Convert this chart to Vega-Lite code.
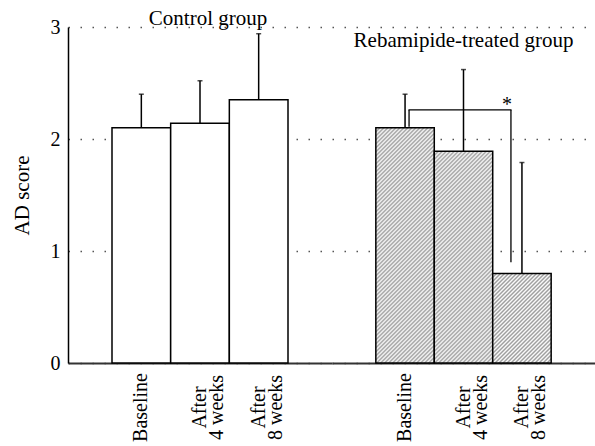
{
"$schema": "https://vega.github.io/schema/vega-lite/v6.json",
"background": "white",
"padding": {"left": 11, "top": 7, "right": 0, "bottom": 0},
"spacing": 0,
"config": {
"font": "Liberation Serif",
"view": {"stroke": null},
"axisX": {"title": null, "labelAngle": -90, "labelAlign": "center", "labelBaseline": "middle", "labelPadding": 44, "ticks": false, "domainColor": "#333", "domainWidth": 2, "labelFontSize": 20, "labelLineHeight": 17, "labelColor": "black", "labelOverlap": false, "labelBound": false, "labelFlush": false, "grid": false, "labelExpr": "datum.value === 'Baseline' ? datum.value : ['After', substring(datum.value, 6)]"},
"axisY": {"ticks": false, "grid": true, "gridDash": [1.5, 10.5], "gridColor": "#555", "gridWidth": 1.3, "labelFontSize": 20, "labelColor": "black", "titleFontSize": 21, "titleFontWeight": "normal", "titleColor": "black", "labelPadding": 8, "titlePadding": 18, "domainColor": "black", "domainWidth": 1.5, "format": "d"}
},
"datasets": {
"bars": [
{"group": "Control", "time": "Baseline", "mean": 2.10, "err": 2.40},
{"group": "Control", "time": "After 4 weeks", "mean": 2.14, "err": 2.52},
{"group": "Control", "time": "After 8 weeks", "mean": 2.35, "err": 2.94},
{"group": "Rebamipide", "time": "Baseline", "mean": 2.10, "err": 2.40},
{"group": "Rebamipide", "time": "After 4 weeks", "mean": 1.89, "err": 2.62},
{"group": "Rebamipide", "time": "After 8 weeks", "mean": 0.80, "err": 1.79}
]
},
"hconcat": [
{
"width": 264, "height": 336,
"data": {"name": "bars"},
"encoding": {"x": {"field": "time", "type": "nominal", "sort": null, "scale": {"domain": ["Baseline", "After 4 weeks", "After 8 weeks"], "paddingInner": 0, "paddingOuter": 0.75}}},
"layer": [
{"transform": [{"filter": "datum.group === 'Control'"}], "mark": {"type": "rule", "color": "black", "strokeWidth": 1.5}, "encoding": {"y": {"field": "mean", "type": "quantitative", "title": "AD score", "scale": {"domain": [0, 3], "nice": false}, "axis": {"values": [0, 1, 2, 3]}}, "y2": {"field": "err"}}},
{"transform": [{"filter": "datum.group === 'Control'"}], "mark": {"type": "tick", "orient": "horizontal", "size": 5, "thickness": 1.5, "color": "black"}, "encoding": {"y": {"field": "err", "type": "quantitative", "title": "AD score"}}},
{"transform": [{"filter": "datum.group === 'Control'"}], "mark": {"type": "bar", "fill": "white", "stroke": "black", "strokeWidth": 1.5}, "encoding": {"y": {"field": "mean", "type": "quantitative", "title": "AD score"}}},
{"data": {"values": [{"t": "Control group"}]}, "mark": {"type": "text", "fontSize": 21, "dx": 8, "baseline": "alphabetic", "align": "center", "color": "black"}, "encoding": {"x": {"datum": "After 4 weeks"}, "y": {"datum": 3.02, "title": "AD score"}, "text": {"field": "t"}}}
]
},
{
"width": 263, "height": 336,
"data": {"name": "bars"},
"encoding": {"x": {"field": "time", "type": "nominal", "sort": null, "scale": {"domain": ["Baseline", "After 4 weeks", "After 8 weeks"], "paddingInner": 0, "paddingOuter": 0.75}}},
"layer": [
{"transform": [{"filter": "datum.group === 'Rebamipide'"}], "mark": {"type": "rule", "color": "black", "strokeWidth": 1.5}, "encoding": {"y": {"field": "mean", "type": "quantitative", "title": null, "scale": {"domain": [0, 3], "nice": false}, "axis": {"values": [0, 1, 2, 3], "labels": false, "domain": false}}, "y2": {"field": "err"}}},
{"transform": [{"filter": "datum.group === 'Rebamipide'"}], "mark": {"type": "tick", "orient": "horizontal", "size": 5, "thickness": 1.5, "color": "black"}, "encoding": {"y": {"field": "err", "type": "quantitative", "title": null}}},
{"transform": [{"filter": "datum.group === 'Rebamipide' && datum.time === 'Baseline'"}], "mark": {"type": "bar", "stroke": "black", "strokeWidth": 1.5, "fill": {"gradient": "linear", "x1": 0, "y1": 0, "x2": 0.398, "y2": 1.6018, "stops": [
{"offset":0,"color":"#999"},{"offset":0.005,"color":"#fff"},{"offset":0.01,"color":"#999"},{"offset":0.015,"color":"#fff"},{"offset":0.02,"color":"#999"},{"offset":0.025,"color":"#fff"},{"offset":0.03,"color":"#999"},{"offset":0.035,"color":"#fff"},{"offset":0.04,"color":"#999"},{"offset":0.045,"color":"#fff"},
{"offset":0.05,"color":"#999"},{"offset":0.055,"color":"#fff"},{"offset":0.06,"color":"#999"},{"offset":0.065,"color":"#fff"},{"offset":0.07,"color":"#999"},{"offset":0.075,"color":"#fff"},{"offset":0.08,"color":"#999"},{"offset":0.085,"color":"#fff"},{"offset":0.09,"color":"#999"},{"offset":0.095,"color":"#fff"},
{"offset":0.1,"color":"#999"},{"offset":0.105,"color":"#fff"},{"offset":0.11,"color":"#999"},{"offset":0.115,"color":"#fff"},{"offset":0.12,"color":"#999"},{"offset":0.125,"color":"#fff"},{"offset":0.13,"color":"#999"},{"offset":0.135,"color":"#fff"},{"offset":0.14,"color":"#999"},{"offset":0.145,"color":"#fff"},
{"offset":0.15,"color":"#999"},{"offset":0.155,"color":"#fff"},{"offset":0.16,"color":"#999"},{"offset":0.165,"color":"#fff"},{"offset":0.17,"color":"#999"},{"offset":0.175,"color":"#fff"},{"offset":0.18,"color":"#999"},{"offset":0.185,"color":"#fff"},{"offset":0.19,"color":"#999"},{"offset":0.195,"color":"#fff"},
{"offset":0.2,"color":"#999"},{"offset":0.205,"color":"#fff"},{"offset":0.21,"color":"#999"},{"offset":0.215,"color":"#fff"},{"offset":0.22,"color":"#999"},{"offset":0.225,"color":"#fff"},{"offset":0.23,"color":"#999"},{"offset":0.235,"color":"#fff"},{"offset":0.24,"color":"#999"},{"offset":0.245,"color":"#fff"},
{"offset":0.25,"color":"#999"},{"offset":0.255,"color":"#fff"},{"offset":0.26,"color":"#999"},{"offset":0.265,"color":"#fff"},{"offset":0.27,"color":"#999"},{"offset":0.275,"color":"#fff"},{"offset":0.28,"color":"#999"},{"offset":0.285,"color":"#fff"},{"offset":0.29,"color":"#999"},{"offset":0.295,"color":"#fff"},
{"offset":0.3,"color":"#999"},{"offset":0.305,"color":"#fff"},{"offset":0.31,"color":"#999"},{"offset":0.315,"color":"#fff"},{"offset":0.32,"color":"#999"},{"offset":0.325,"color":"#fff"},{"offset":0.33,"color":"#999"},{"offset":0.335,"color":"#fff"},{"offset":0.34,"color":"#999"},{"offset":0.345,"color":"#fff"},
{"offset":0.35,"color":"#999"},{"offset":0.355,"color":"#fff"},{"offset":0.36,"color":"#999"},{"offset":0.365,"color":"#fff"},{"offset":0.37,"color":"#999"},{"offset":0.375,"color":"#fff"},{"offset":0.38,"color":"#999"},{"offset":0.385,"color":"#fff"},{"offset":0.39,"color":"#999"},{"offset":0.395,"color":"#fff"},
{"offset":0.4,"color":"#999"},{"offset":0.405,"color":"#fff"},{"offset":0.41,"color":"#999"},{"offset":0.415,"color":"#fff"},{"offset":0.42,"color":"#999"},{"offset":0.425,"color":"#fff"},{"offset":0.43,"color":"#999"},{"offset":0.435,"color":"#fff"},{"offset":0.44,"color":"#999"},{"offset":0.445,"color":"#fff"},
{"offset":0.45,"color":"#999"},{"offset":0.455,"color":"#fff"},{"offset":0.46,"color":"#999"},{"offset":0.465,"color":"#fff"},{"offset":0.47,"color":"#999"},{"offset":0.475,"color":"#fff"},{"offset":0.48,"color":"#999"},{"offset":0.485,"color":"#fff"},{"offset":0.49,"color":"#999"},{"offset":0.495,"color":"#fff"},
{"offset":0.5,"color":"#999"},{"offset":0.505,"color":"#fff"},{"offset":0.51,"color":"#999"},{"offset":0.515,"color":"#fff"},{"offset":0.52,"color":"#999"},{"offset":0.525,"color":"#fff"},{"offset":0.53,"color":"#999"},{"offset":0.535,"color":"#fff"},{"offset":0.54,"color":"#999"},{"offset":0.545,"color":"#fff"},
{"offset":0.55,"color":"#999"},{"offset":0.555,"color":"#fff"},{"offset":0.56,"color":"#999"},{"offset":0.565,"color":"#fff"},{"offset":0.57,"color":"#999"},{"offset":0.575,"color":"#fff"},{"offset":0.58,"color":"#999"},{"offset":0.585,"color":"#fff"},{"offset":0.59,"color":"#999"},{"offset":0.595,"color":"#fff"},
{"offset":0.6,"color":"#999"},{"offset":0.605,"color":"#fff"},{"offset":0.61,"color":"#999"},{"offset":0.615,"color":"#fff"},{"offset":0.62,"color":"#999"},{"offset":0.625,"color":"#fff"},{"offset":0.63,"color":"#999"},{"offset":0.635,"color":"#fff"},{"offset":0.64,"color":"#999"},{"offset":0.645,"color":"#fff"},
{"offset":0.65,"color":"#999"},{"offset":0.655,"color":"#fff"},{"offset":0.66,"color":"#999"},{"offset":0.665,"color":"#fff"},{"offset":0.67,"color":"#999"},{"offset":0.675,"color":"#fff"},{"offset":0.68,"color":"#999"},{"offset":0.685,"color":"#fff"},{"offset":0.69,"color":"#999"},{"offset":0.695,"color":"#fff"},
{"offset":0.7,"color":"#999"},{"offset":0.705,"color":"#fff"},{"offset":0.71,"color":"#999"},{"offset":0.715,"color":"#fff"},{"offset":0.72,"color":"#999"},{"offset":0.725,"color":"#fff"},{"offset":0.73,"color":"#999"},{"offset":0.735,"color":"#fff"},{"offset":0.74,"color":"#999"}
]}}, "encoding": {"y": {"field": "mean", "type": "quantitative", "title": null}}},
{"transform": [{"filter": "datum.group === 'Rebamipide' && datum.time === 'After 4 weeks'"}], "mark": {"type": "bar", "stroke": "black", "strokeWidth": 1.5, "fill": {"gradient": "linear", "x1": 0, "y1": 0, "x2": 0.48475, "y2": 1.75585, "stops": [
{"offset":0,"color":"#999"},{"offset":0.005,"color":"#fff"},{"offset":0.01,"color":"#999"},{"offset":0.015,"color":"#fff"},{"offset":0.02,"color":"#999"},{"offset":0.025,"color":"#fff"},{"offset":0.03,"color":"#999"},{"offset":0.035,"color":"#fff"},{"offset":0.04,"color":"#999"},{"offset":0.045,"color":"#fff"},
{"offset":0.05,"color":"#999"},{"offset":0.055,"color":"#fff"},{"offset":0.06,"color":"#999"},{"offset":0.065,"color":"#fff"},{"offset":0.07,"color":"#999"},{"offset":0.075,"color":"#fff"},{"offset":0.08,"color":"#999"},{"offset":0.085,"color":"#fff"},{"offset":0.09,"color":"#999"},{"offset":0.095,"color":"#fff"},
{"offset":0.1,"color":"#999"},{"offset":0.105,"color":"#fff"},{"offset":0.11,"color":"#999"},{"offset":0.115,"color":"#fff"},{"offset":0.12,"color":"#999"},{"offset":0.125,"color":"#fff"},{"offset":0.13,"color":"#999"},{"offset":0.135,"color":"#fff"},{"offset":0.14,"color":"#999"},{"offset":0.145,"color":"#fff"},
{"offset":0.15,"color":"#999"},{"offset":0.155,"color":"#fff"},{"offset":0.16,"color":"#999"},{"offset":0.165,"color":"#fff"},{"offset":0.17,"color":"#999"},{"offset":0.175,"color":"#fff"},{"offset":0.18,"color":"#999"},{"offset":0.185,"color":"#fff"},{"offset":0.19,"color":"#999"},{"offset":0.195,"color":"#fff"},
{"offset":0.2,"color":"#999"},{"offset":0.205,"color":"#fff"},{"offset":0.21,"color":"#999"},{"offset":0.215,"color":"#fff"},{"offset":0.22,"color":"#999"},{"offset":0.225,"color":"#fff"},{"offset":0.23,"color":"#999"},{"offset":0.235,"color":"#fff"},{"offset":0.24,"color":"#999"},{"offset":0.245,"color":"#fff"},
{"offset":0.25,"color":"#999"},{"offset":0.255,"color":"#fff"},{"offset":0.26,"color":"#999"},{"offset":0.265,"color":"#fff"},{"offset":0.27,"color":"#999"},{"offset":0.275,"color":"#fff"},{"offset":0.28,"color":"#999"},{"offset":0.285,"color":"#fff"},{"offset":0.29,"color":"#999"},{"offset":0.295,"color":"#fff"},
{"offset":0.3,"color":"#999"},{"offset":0.305,"color":"#fff"},{"offset":0.31,"color":"#999"},{"offset":0.315,"color":"#fff"},{"offset":0.32,"color":"#999"},{"offset":0.325,"color":"#fff"},{"offset":0.33,"color":"#999"},{"offset":0.335,"color":"#fff"},{"offset":0.34,"color":"#999"},{"offset":0.345,"color":"#fff"},
{"offset":0.35,"color":"#999"},{"offset":0.355,"color":"#fff"},{"offset":0.36,"color":"#999"},{"offset":0.365,"color":"#fff"},{"offset":0.37,"color":"#999"},{"offset":0.375,"color":"#fff"},{"offset":0.38,"color":"#999"},{"offset":0.385,"color":"#fff"},{"offset":0.39,"color":"#999"},{"offset":0.395,"color":"#fff"},
{"offset":0.4,"color":"#999"},{"offset":0.405,"color":"#fff"},{"offset":0.41,"color":"#999"},{"offset":0.415,"color":"#fff"},{"offset":0.42,"color":"#999"},{"offset":0.425,"color":"#fff"},{"offset":0.43,"color":"#999"},{"offset":0.435,"color":"#fff"},{"offset":0.44,"color":"#999"},{"offset":0.445,"color":"#fff"},
{"offset":0.45,"color":"#999"},{"offset":0.455,"color":"#fff"},{"offset":0.46,"color":"#999"},{"offset":0.465,"color":"#fff"},{"offset":0.47,"color":"#999"},{"offset":0.475,"color":"#fff"},{"offset":0.48,"color":"#999"},{"offset":0.485,"color":"#fff"},{"offset":0.49,"color":"#999"},{"offset":0.495,"color":"#fff"},
{"offset":0.5,"color":"#999"},{"offset":0.505,"color":"#fff"},{"offset":0.51,"color":"#999"},{"offset":0.515,"color":"#fff"},{"offset":0.52,"color":"#999"},{"offset":0.525,"color":"#fff"},{"offset":0.53,"color":"#999"},{"offset":0.535,"color":"#fff"},{"offset":0.54,"color":"#999"},{"offset":0.545,"color":"#fff"},
{"offset":0.55,"color":"#999"},{"offset":0.555,"color":"#fff"},{"offset":0.56,"color":"#999"},{"offset":0.565,"color":"#fff"},{"offset":0.57,"color":"#999"},{"offset":0.575,"color":"#fff"},{"offset":0.58,"color":"#999"},{"offset":0.585,"color":"#fff"},{"offset":0.59,"color":"#999"},{"offset":0.595,"color":"#fff"},
{"offset":0.6,"color":"#999"},{"offset":0.605,"color":"#fff"},{"offset":0.61,"color":"#999"},{"offset":0.615,"color":"#fff"},{"offset":0.62,"color":"#999"},{"offset":0.625,"color":"#fff"},{"offset":0.63,"color":"#999"},{"offset":0.635,"color":"#fff"},{"offset":0.64,"color":"#999"},{"offset":0.645,"color":"#fff"},
{"offset":0.65,"color":"#999"},{"offset":0.655,"color":"#fff"},{"offset":0.66,"color":"#999"},{"offset":0.665,"color":"#fff"},{"offset":0.67,"color":"#999"},{"offset":0.675,"color":"#fff"},{"offset":0.68,"color":"#999"}
]}}, "encoding": {"y": {"field": "mean", "type": "quantitative", "title": null}}},
{"transform": [{"filter": "datum.group === 'Rebamipide' && datum.time === 'After 8 weeks'"}], "mark": {"type": "bar", "stroke": "black", "strokeWidth": 1.5, "fill": {"gradient": "linear", "x1": 0, "y1": 0, "x2": 2.0428, "y2": 3.132, "stops": [
{"offset":0,"color":"#999"},{"offset":0.005,"color":"#fff"},{"offset":0.01,"color":"#999"},{"offset":0.015,"color":"#fff"},{"offset":0.02,"color":"#999"},{"offset":0.025,"color":"#fff"},{"offset":0.03,"color":"#999"},{"offset":0.035,"color":"#fff"},{"offset":0.04,"color":"#999"},{"offset":0.045,"color":"#fff"},
{"offset":0.05,"color":"#999"},{"offset":0.055,"color":"#fff"},{"offset":0.06,"color":"#999"},{"offset":0.065,"color":"#fff"},{"offset":0.07,"color":"#999"},{"offset":0.075,"color":"#fff"},{"offset":0.08,"color":"#999"},{"offset":0.085,"color":"#fff"},{"offset":0.09,"color":"#999"},{"offset":0.095,"color":"#fff"},
{"offset":0.1,"color":"#999"},{"offset":0.105,"color":"#fff"},{"offset":0.11,"color":"#999"},{"offset":0.115,"color":"#fff"},{"offset":0.12,"color":"#999"},{"offset":0.125,"color":"#fff"},{"offset":0.13,"color":"#999"},{"offset":0.135,"color":"#fff"},{"offset":0.14,"color":"#999"},{"offset":0.145,"color":"#fff"},
{"offset":0.15,"color":"#999"},{"offset":0.155,"color":"#fff"},{"offset":0.16,"color":"#999"},{"offset":0.165,"color":"#fff"},{"offset":0.17,"color":"#999"},{"offset":0.175,"color":"#fff"},{"offset":0.18,"color":"#999"},{"offset":0.185,"color":"#fff"},{"offset":0.19,"color":"#999"},{"offset":0.195,"color":"#fff"},
{"offset":0.2,"color":"#999"},{"offset":0.205,"color":"#fff"},{"offset":0.21,"color":"#999"},{"offset":0.215,"color":"#fff"},{"offset":0.22,"color":"#999"},{"offset":0.225,"color":"#fff"},{"offset":0.23,"color":"#999"},{"offset":0.235,"color":"#fff"},{"offset":0.24,"color":"#999"},{"offset":0.245,"color":"#fff"},
{"offset":0.25,"color":"#999"},{"offset":0.255,"color":"#fff"},{"offset":0.26,"color":"#999"},{"offset":0.265,"color":"#fff"},{"offset":0.27,"color":"#999"},{"offset":0.275,"color":"#fff"},{"offset":0.28,"color":"#999"},{"offset":0.285,"color":"#fff"},{"offset":0.29,"color":"#999"},{"offset":0.295,"color":"#fff"},
{"offset":0.3,"color":"#999"},{"offset":0.305,"color":"#fff"},{"offset":0.31,"color":"#999"},{"offset":0.315,"color":"#fff"},{"offset":0.32,"color":"#999"},{"offset":0.325,"color":"#fff"},{"offset":0.33,"color":"#999"},{"offset":0.335,"color":"#fff"},{"offset":0.34,"color":"#999"},{"offset":0.345,"color":"#fff"},
{"offset":0.35,"color":"#999"},{"offset":0.355,"color":"#fff"},{"offset":0.36,"color":"#999"},{"offset":0.365,"color":"#fff"},{"offset":0.37,"color":"#999"},{"offset":0.375,"color":"#fff"},{"offset":0.38,"color":"#999"}
]}}, "encoding": {"y": {"field": "mean", "type": "quantitative", "title": null}}},
{"data": {"values": [{"time": "Baseline", "lo": 2.11, "hi": 2.26}]}, "mark": {"type": "rule", "xOffset": 4, "color": "black", "strokeWidth": 1.3}, "encoding": {"y": {"field": "lo", "type": "quantitative", "title": null}, "y2": {"field": "hi"}}},
{"data": {"values": [{"time": "After 8 weeks", "lo": 0.90, "hi": 2.26}]}, "mark": {"type": "rule", "xOffset": -11, "color": "black", "strokeWidth": 1.3}, "encoding": {"y": {"field": "lo", "type": "quantitative", "title": null}, "y2": {"field": "hi"}}},
{"data": {"values": [{"time": "Baseline", "time2": "After 8 weeks", "hi": 2.26}]}, "mark": {"type": "rule", "xOffset": 3.4, "x2Offset": -10.4, "color": "black", "strokeWidth": 1.3}, "encoding": {"x2": {"field": "time2"}, "y": {"field": "hi", "type": "quantitative", "title": null}}},
{"data": {"values": [{"s": "*"}]}, "mark": {"type": "text", "fontSize": 20, "dx": -15, "baseline": "alphabetic", "align": "center", "color": "black"}, "encoding": {"x": {"datum": "After 8 weeks"}, "y": {"datum": 2.25, "title": null}, "text": {"field": "s"}}},
{"data": {"values": [{"t": "Rebamipide-treated group"}]}, "mark": {"type": "text", "fontSize": 21, "baseline": "alphabetic", "align": "center", "color": "black"}, "encoding": {"x": {"datum": "After 4 weeks"}, "y": {"datum": 2.82, "title": null}, "text": {"field": "t"}}}
]
}
]
}
